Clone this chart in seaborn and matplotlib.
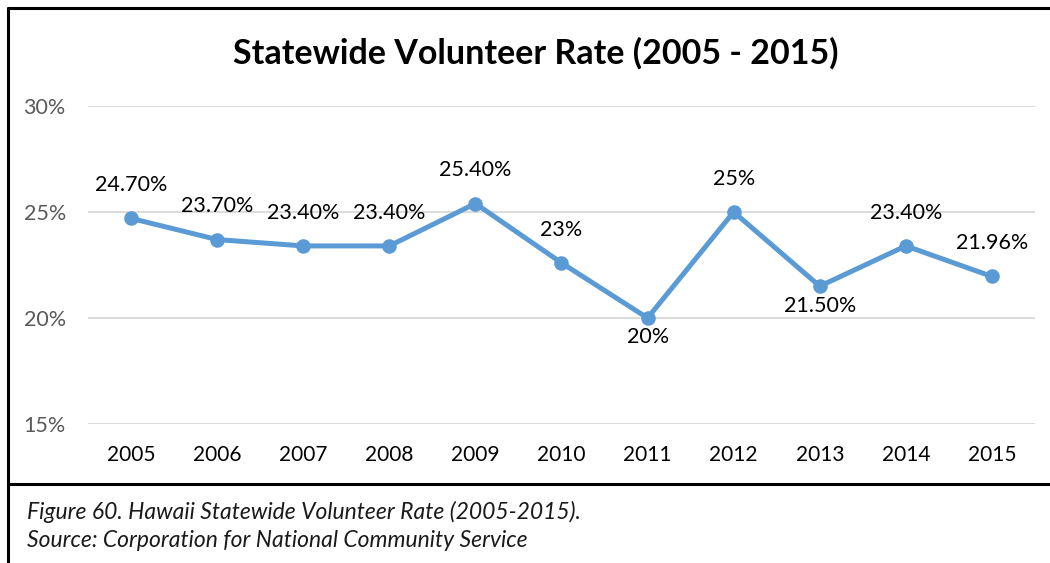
import pandas as pd
import matplotlib.pyplot as plt
import seaborn as sns
from matplotlib.lines import Line2D

# Data
years = ["2005", "2006", "2007", "2008", "2009", "2010", "2011", "2012", "2013", "2014", "2015"]
rates = [24.7, 23.7, 23.4, 23.4, 25.4, 22.6, 20.0, 25.0, 21.5, 23.4, 21.96]
labels = ["24.70%", "23.70%", "23.40%", "23.40%", "25.40%", "23%", "20%", "25%", "21.50%", "23.40%", "21.96%"]
label_pos = ["above", "above", "above", "above", "above", "above", "below", "above", "below", "above", "above"]
y_ticks = [15, 20, 25, 30]

df = pd.DataFrame({"Year": years, "Rate": rates})

sns.set_style("white")
plt.rcParams["font.family"] = ["Lato", "DejaVu Sans"]

fig = plt.figure(figsize=(10.5, 5.63), dpi=100)
ax = fig.add_axes([0.0838, 0.2469, 0.9019, 0.5648])

line_color = "#5B9BD5"
sns.lineplot(data=df, x="Year", y="Rate", ax=ax, color=line_color, linewidth=3.6,
             marker="o", markersize=10.5, markeredgewidth=0, sort=False)

for i, (v, lab, pos) in enumerate(zip(rates, labels, label_pos)):
    dy = 24 if pos == "above" else -14
    ax.annotate(lab, (i, v), xytext=(0, dy), textcoords="offset points",
                ha="center", va="center", fontsize=15.5, color="#000000")

ax.set_xlim(-0.5, len(years) - 0.5)
ax.set_ylim(15, 30)
ax.set_yticks(y_ticks)
ax.set_yticklabels([f"{t}%" for t in y_ticks])
ax.yaxis.grid(True, color="#D9D9D9", linewidth=1.3)
ax.set_axisbelow(True)
for s in ax.spines.values():
    s.set_visible(False)
ax.tick_params(axis="y", colors="#595959", labelsize=15.5, length=0, pad=16)
ax.tick_params(axis="x", colors="#000000", labelsize=15, length=0, pad=15)
ax.set_xlabel("")
ax.set_ylabel("")

fig.text(0.51, 0.905, "Statewide Volunteer Rate (2005 - 2015)", ha="center", va="center",
         fontsize=24.5, fontweight="bold", color="#000000")

fig.text(0.026, 0.09, "Figure 60. Hawaii Statewide Volunteer Rate (2005-2015).",
         ha="left", va="center", fontsize=16.5, style="italic", color="#1a1a1a")
fig.text(0.026, 0.04, "Source: Corporation for National Community Service",
         ha="left", va="center", fontsize=16.5, style="italic", color="#1a1a1a")

# frame lines
fig.add_artist(Line2D([0.0076, 1.0], [0.9858, 0.9858], color="black", linewidth=2.2))
fig.add_artist(Line2D([0.0076, 0.0076], [0.0, 0.9858], color="black", linewidth=2.2))
fig.add_artist(Line2D([0.0076, 1.0], [0.1403, 0.1403], color="black", linewidth=2.2))

fig.savefig("out.png", dpi=100)
